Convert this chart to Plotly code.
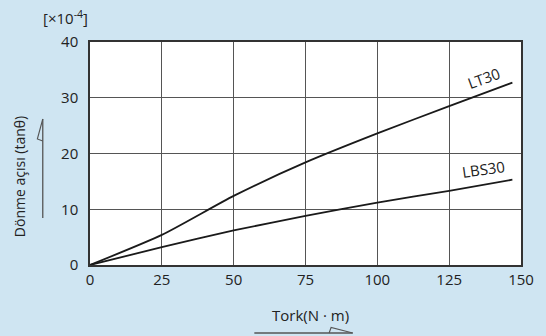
import plotly.graph_objects as go

torque = [0, 25, 50, 75, 100, 125, 147]
lt30 = [0, 5.4, 12.4, 18.4, 23.6, 28.5, 32.7]
lbs30 = [0, 3.2, 6.2, 8.8, 11.2, 13.3, 15.3]
x_ticks = [0, 25, 50, 75, 100, 125, 150]
y_ticks = [0, 10, 20, 30, 40]

W, H = 546, 336
l, r, t, b = 90, 18, 42, 71
pw, ph = W - l - r, H - t - b


def px(xp):
    return (xp - l) / pw


def py(yp):
    return (H - b - yp) / ph


fig = go.Figure()
fig.add_trace(go.Scatter(x=torque, y=lt30, mode="lines",
                         line=dict(color="#1a1a1a", width=1.8, shape="spline", smoothing=0.6), name="LT30"))
fig.add_trace(go.Scatter(x=torque, y=lbs30, mode="lines",
                         line=dict(color="#1a1a1a", width=1.8, shape="spline", smoothing=0.6), name="LBS30"))

fam = "Open Sans, DejaVu Sans, sans-serif"
txt = "#222"

fig.update_layout(
    width=W, height=H,
    paper_bgcolor="#cfe5f2", plot_bgcolor="white",
    margin=dict(l=l, r=r, t=t, b=b),
    showlegend=False,
    font=dict(family=fam, size=15, color=txt),
    xaxis=dict(range=[0, 150], tickvals=x_ticks, showgrid=True, gridcolor="#555", gridwidth=1,
               zeroline=False, showline=True, linecolor="#333", linewidth=1.5, mirror=True,
               ticks="", tickfont=dict(size=15), fixedrange=True),
    yaxis=dict(range=[0, 40], tickvals=y_ticks, showgrid=True, gridcolor="#555", gridwidth=1,
               zeroline=False, showline=True, linecolor="#333", linewidth=1.5, mirror=True,
               ticks="", ticklabelstandoff=7, tickfont=dict(size=15), fixedrange=True),
)

fig.add_annotation(text="LT30", x=137, y=33.6, xref="x", yref="y", showarrow=False, textangle=-20,
                   font=dict(size=15, color=txt))
fig.add_annotation(text="LBS30", x=137, y=17.2, xref="x", yref="y", showarrow=False, textangle=-8,
                   font=dict(size=15, color=txt))
fig.add_annotation(text="[×10<sup>-4</sup>]", x=px(65), y=py(18), xref="paper", yref="paper", showarrow=False,
                   font=dict(size=15, color=txt), xanchor="center", yanchor="middle")
fig.add_annotation(text="Dönme açısı (tanθ)", x=px(18), y=py(177), xref="paper", yref="paper",
                   showarrow=False, textangle=-90,
                   font=dict(size=14, color=txt), xanchor="center", yanchor="middle")
fig.add_annotation(text="Tork(N · m)", x=px(314), y=py(315), xref="paper", yref="paper", showarrow=False,
                   font=dict(size=15, color=txt), xanchor="center", yanchor="middle")

# arrows
col = "#555"
fig.add_shape(type="line", x0=px(42), x1=px(42), y0=py(218), y1=py(119), xref="paper", yref="paper",
              line=dict(color=col, width=1.3))
fig.add_shape(type="path", path=f"M {px(42)} {py(119)} L {px(36.5)} {py(139)} L {px(42)} {py(141)}",
              xref="paper", yref="paper", line=dict(color=col, width=1.1))
fig.add_shape(type="line", x0=px(257), x1=px(357), y0=py(333), y1=py(333), xref="paper", yref="paper",
              line=dict(color=col, width=1.3))
fig.add_shape(type="path", path=f"M {px(357)} {py(333)} L {px(335)} {py(327.5)} L {px(333)} {py(333)}",
              xref="paper", yref="paper", line=dict(color=col, width=1.1))

fig.write_html("out.html", config={"displayModeBar": False},
               post_script="document.body.style.margin='0';document.body.style.overflow='hidden';")
